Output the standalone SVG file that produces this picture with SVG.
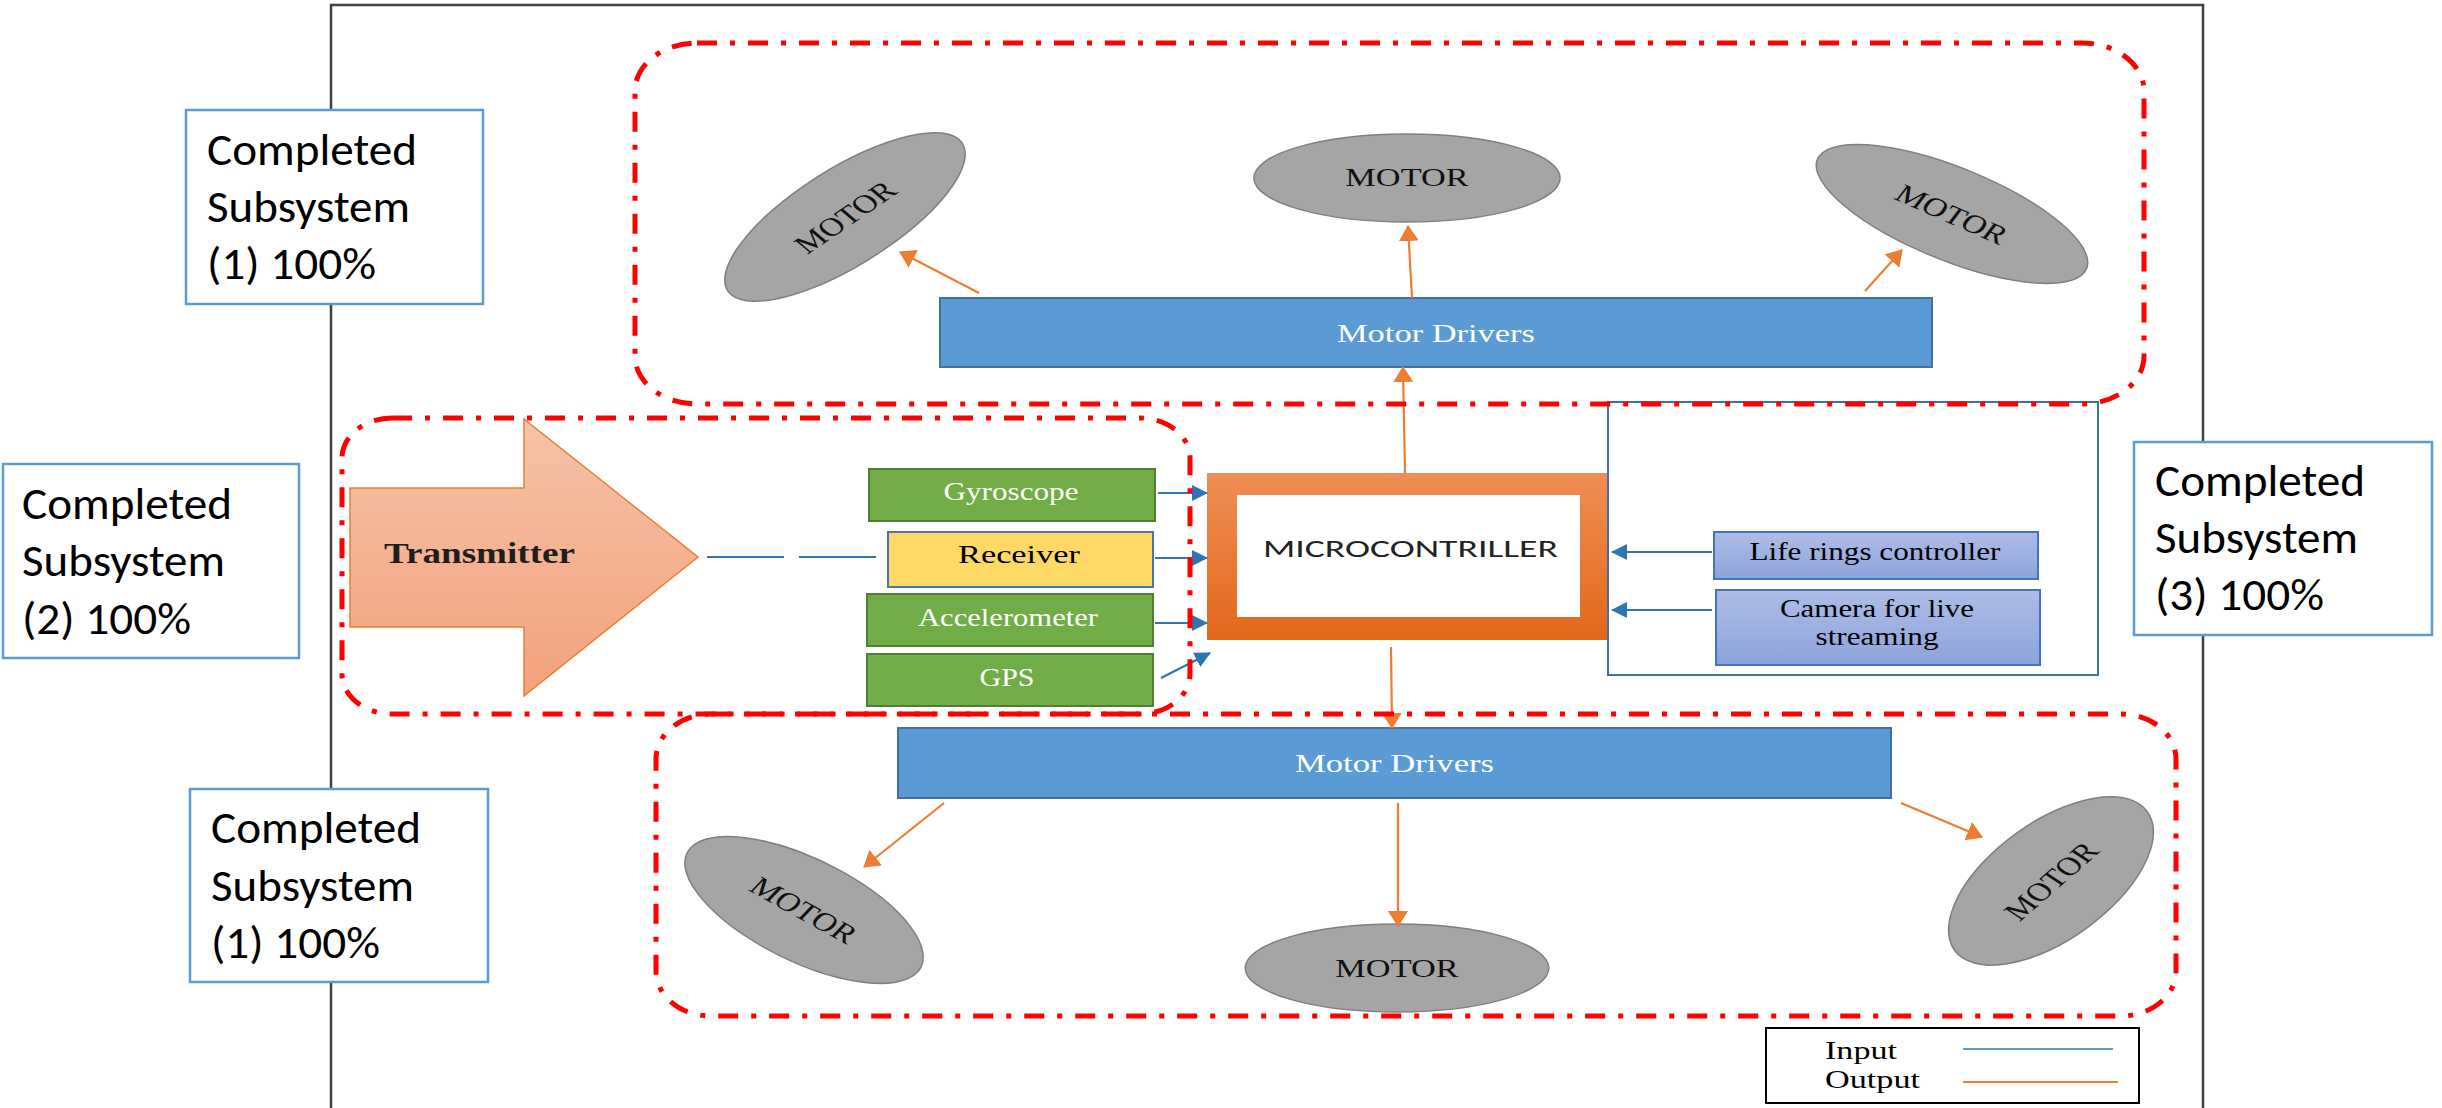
<svg xmlns="http://www.w3.org/2000/svg" width="2442" height="1108" viewBox="0 0 2442 1108">
<style>
.lbl{font-family:Calibri,Carlito,"Liberation Sans",Arial,sans-serif;font-size:46px;fill:#000}
.lblbox{fill:#fff;stroke:#5b9bd5;stroke-width:2.5}
.tnr{font-family:"Liberation Serif","Times New Roman",serif}
.grp{fill:none;stroke:#ff0000;stroke-width:5;stroke-dasharray:20 13 5 13}
.drv{fill:#5b9bd5;stroke:#41719c;stroke-width:2}
.drvt{font-family:"Liberation Serif","Times New Roman",serif;font-size:26px;fill:#fff}
.mot{fill:#a5a5a5;stroke:#7f7f7f;stroke-width:1.5}
.mott{font-family:"Liberation Serif","Times New Roman",serif;font-size:26px;fill:#111}
.sen{fill:#70ad47;stroke:#507e32;stroke-width:2}
.sent{font-family:"Liberation Serif","Times New Roman",serif;font-size:25px;fill:#fff}
.out{stroke:#ed7d31;stroke-width:2.2;fill:none}
.in{stroke:#2e75b6;stroke-width:2.2;fill:none}
.lr{fill:url(#lrg);stroke:#4472c4;stroke-width:2}
.lrt{font-family:"Liberation Serif","Times New Roman",serif;font-size:25px;fill:#000}
</style>
<defs>
<marker id="ao" markerUnits="userSpaceOnUse" markerWidth="16" markerHeight="20" viewBox="0 0 16 20" refX="15" refY="10" orient="auto"><path d="M0,0 L16,10 L0,20 z" fill="#ed7d31"/></marker>
<marker id="ai" markerUnits="userSpaceOnUse" markerWidth="16" markerHeight="16" viewBox="0 0 16 16" refX="15" refY="8" orient="auto"><path d="M0,0 L16,8 L0,16 z" fill="#2e75b6"/></marker>
<linearGradient id="txg" x1="0" y1="0" x2="0" y2="1"><stop offset="0" stop-color="#f6c3a8"/><stop offset="1" stop-color="#f3a17c"/></linearGradient>
<linearGradient id="mcg" x1="0" y1="0" x2="0" y2="1"><stop offset="0" stop-color="#f08e55"/><stop offset="1" stop-color="#e2681a"/></linearGradient>
<linearGradient id="lrg" x1="0" y1="0" x2="0" y2="1"><stop offset="0" stop-color="#aebde6"/><stop offset="1" stop-color="#8ca3db"/></linearGradient>
</defs>
<rect width="2442" height="1108" fill="#fff"/>
<!-- outer frame -->
<rect id="frame" x="331" y="5" width="1872" height="1120" fill="none" stroke="#404040" stroke-width="2.5"/>

<!-- top motor drivers -->
<g id="drivers-top"><rect class="drv" x="940" y="298" width="992" height="69"/><text class="drvt" x="1337" y="342" textLength="198" lengthAdjust="spacingAndGlyphs">Motor Drivers</text></g>
<g id="motor-top-left" transform="translate(845,217) scale(1.32,1) rotate(-42)"><ellipse class="mot" rx="116" ry="44" vector-effect="non-scaling-stroke"/><text class="mott" y="9" text-anchor="middle">MOTOR</text></g>
<g id="motor-top-mid" transform="translate(1407,178) scale(1.32,1)"><ellipse class="mot" rx="116" ry="44" vector-effect="non-scaling-stroke"/><text class="mott" y="8" text-anchor="middle">MOTOR</text></g>
<g id="motor-top-right" transform="translate(1952,214) scale(1.32,1) rotate(30)"><ellipse class="mot" rx="116" ry="44" vector-effect="non-scaling-stroke"/><text class="mott" y="9" text-anchor="middle">MOTOR</text></g>

<!-- bottom motor drivers -->
<g id="drivers-bottom"><rect class="drv" x="898" y="728" width="993" height="70"/><text class="drvt" x="1295" y="772" textLength="199" lengthAdjust="spacingAndGlyphs">Motor Drivers</text></g>
<g id="motor-bot-left" transform="translate(804,910) scale(1.32,1) rotate(36)"><ellipse class="mot" rx="106" ry="48" vector-effect="non-scaling-stroke"/><text class="mott" y="9" text-anchor="middle">MOTOR</text></g>
<g id="motor-bot-mid" transform="translate(1397,968) scale(1.32,1)"><ellipse class="mot" rx="115" ry="44" vector-effect="non-scaling-stroke"/><text class="mott" y="9" text-anchor="middle">MOTOR</text></g>
<g id="motor-bot-right" transform="translate(2051,881) scale(1.32,1) rotate(-49)"><ellipse class="mot" rx="102" ry="52" vector-effect="non-scaling-stroke"/><text class="mott" y="9" text-anchor="middle">MOTOR</text></g>

<!-- transmitter -->
<g id="transmitter"><polygon points="350,488 524,488 524,419 698,557 524,696 524,627 350,627" fill="url(#txg)" stroke="#ed7d31" stroke-width="1.5"/><text class="tnr" x="384" y="563" font-size="30" font-weight="bold" fill="#1e1e1e" textLength="191" lengthAdjust="spacingAndGlyphs">Transmitter</text></g>

<!-- sensors -->
<g id="gyroscope"><rect class="sen" x="869" y="469" width="286" height="52"/><text class="sent" x="1011" y="500" text-anchor="middle" textLength="135" lengthAdjust="spacingAndGlyphs">Gyroscope</text></g>
<g id="receiver"><rect x="888" y="532" width="265" height="55" fill="#ffd966" stroke="#4472c4" stroke-width="2"/><text class="lrt" x="1019" y="563" text-anchor="middle" textLength="122" lengthAdjust="spacingAndGlyphs">Receiver</text></g>
<g id="accelerometer"><rect class="sen" x="867" y="594" width="286" height="52"/><text class="sent" x="1008" y="626" text-anchor="middle" textLength="180" lengthAdjust="spacingAndGlyphs">Accelerometer</text></g>
<g id="gps"><rect class="sen" x="867" y="654" width="286" height="52"/><text class="sent" x="1007" y="686" text-anchor="middle" textLength="55" lengthAdjust="spacingAndGlyphs">GPS</text></g>

<!-- microcontroller -->
<g id="microcontroller"><rect x="1207" y="473" width="402" height="167" fill="url(#mcg)"/><rect x="1237" y="495" width="343" height="122" fill="#fff"/><text x="1263" y="557" font-family="Calibri,Carlito,'Liberation Sans',Arial,sans-serif" font-size="25" fill="#222" textLength="295" lengthAdjust="spacingAndGlyphs">MICROCONTRILLER</text></g>

<!-- subsystem 3 container -->
<g id="subsystem3"><rect x="1608" y="402" width="490" height="273" fill="none" stroke="#41719c" stroke-width="2"/></g>
<g id="life-rings"><rect class="lr" x="1714" y="532" width="324" height="47"/><text class="lrt" x="1875" y="560" text-anchor="middle" textLength="251" lengthAdjust="spacingAndGlyphs">Life rings controller</text></g>
<g id="camera"><rect class="lr" x="1716" y="590" width="324" height="75"/><text class="lrt" x="1877" y="617" text-anchor="middle" textLength="194" lengthAdjust="spacingAndGlyphs">Camera for live</text><text class="lrt" x="1877" y="645" text-anchor="middle" textLength="123" lengthAdjust="spacingAndGlyphs">streaming</text></g>

<!-- connectors -->
<g id="connectors">
<line class="out" x1="979" y1="293" x2="900" y2="252" marker-end="url(#ao)"/>
<line class="out" x1="1412" y1="298" x2="1408" y2="226" marker-end="url(#ao)"/>
<line class="out" x1="1865" y1="291" x2="1902" y2="250" marker-end="url(#ao)"/>
<line class="out" x1="1405" y1="473" x2="1403" y2="367" marker-end="url(#ao)"/>
<line class="out" x1="1391" y1="647" x2="1392" y2="728" marker-end="url(#ao)"/>
<line class="out" x1="1398" y1="803" x2="1398" y2="926" marker-end="url(#ao)"/>
<line class="out" x1="944" y1="803" x2="864" y2="867" marker-end="url(#ao)"/>
<line class="out" x1="1901" y1="803" x2="1982" y2="837" marker-end="url(#ao)"/>
<line class="in" x1="1158" y1="493" x2="1207" y2="493" marker-end="url(#ai)"/>
<line class="in" x1="1155" y1="558" x2="1207" y2="558" marker-end="url(#ai)"/>
<line class="in" x1="1155" y1="623" x2="1207" y2="623" marker-end="url(#ai)"/>
<line class="in" x1="1161" y1="678" x2="1210" y2="653" marker-end="url(#ai)"/>
<line class="in" x1="1712" y1="552" x2="1612" y2="552" marker-end="url(#ai)"/>
<line class="in" x1="1712" y1="610" x2="1612" y2="610" marker-end="url(#ai)"/>
<line class="in" x1="707" y1="557" x2="877" y2="557" stroke-dasharray="77 15"/>
</g>

<!-- subsystem groups -->
<g id="groups">
<rect class="grp" x="635" y="43" width="1509" height="361" rx="62" ry="48"/>
<rect class="grp" x="342" y="418" width="848" height="296" rx="50" ry="40"/>
<rect class="grp" x="656" y="714" width="1520" height="302" rx="55" ry="45"/>
</g>

<!-- labels -->
<g id="label-sub1-top"><rect class="lblbox" x="186" y="110" width="297" height="194"/><text class="lbl" x="207" y="165" textLength="210" lengthAdjust="spacingAndGlyphs">Completed</text><text class="lbl" x="207" y="222" textLength="203" lengthAdjust="spacingAndGlyphs">Subsystem</text><text class="lbl" x="207" y="279" textLength="169" lengthAdjust="spacingAndGlyphs">(1) 100%</text></g>
<g id="label-sub2"><rect class="lblbox" x="3" y="464" width="296" height="194"/><text class="lbl" x="22" y="519" textLength="210" lengthAdjust="spacingAndGlyphs">Completed</text><text class="lbl" x="22" y="576" textLength="203" lengthAdjust="spacingAndGlyphs">Subsystem</text><text class="lbl" x="22" y="634" textLength="169" lengthAdjust="spacingAndGlyphs">(2) 100%</text></g>
<g id="label-sub1-bottom"><rect class="lblbox" x="190" y="789" width="298" height="193"/><text class="lbl" x="211" y="843" textLength="210" lengthAdjust="spacingAndGlyphs">Completed</text><text class="lbl" x="211" y="901" textLength="203" lengthAdjust="spacingAndGlyphs">Subsystem</text><text class="lbl" x="211" y="958" textLength="169" lengthAdjust="spacingAndGlyphs">(1) 100%</text></g>
<g id="label-sub3"><rect class="lblbox" x="2134" y="442" width="298" height="193"/><text class="lbl" x="2155" y="496" textLength="210" lengthAdjust="spacingAndGlyphs">Completed</text><text class="lbl" x="2155" y="553" textLength="203" lengthAdjust="spacingAndGlyphs">Subsystem</text><text class="lbl" x="2155" y="610" textLength="169" lengthAdjust="spacingAndGlyphs">(3) 100%</text></g>

<!-- legend -->
<g id="legend"><rect x="1766" y="1028" width="373" height="75" fill="#fff" stroke="#000" stroke-width="2"/><text class="lrt" x="1825" y="1059" font-size="24" textLength="72" lengthAdjust="spacingAndGlyphs">Input</text><text class="lrt" x="1825" y="1088" font-size="24" textLength="95" lengthAdjust="spacingAndGlyphs">Output</text><line x1="1963" y1="1049" x2="2113" y2="1049" stroke="#5b9bd5" stroke-width="2"/><line x1="1963" y1="1082" x2="2118" y2="1082" stroke="#ed7d31" stroke-width="2"/></g>
</svg>
